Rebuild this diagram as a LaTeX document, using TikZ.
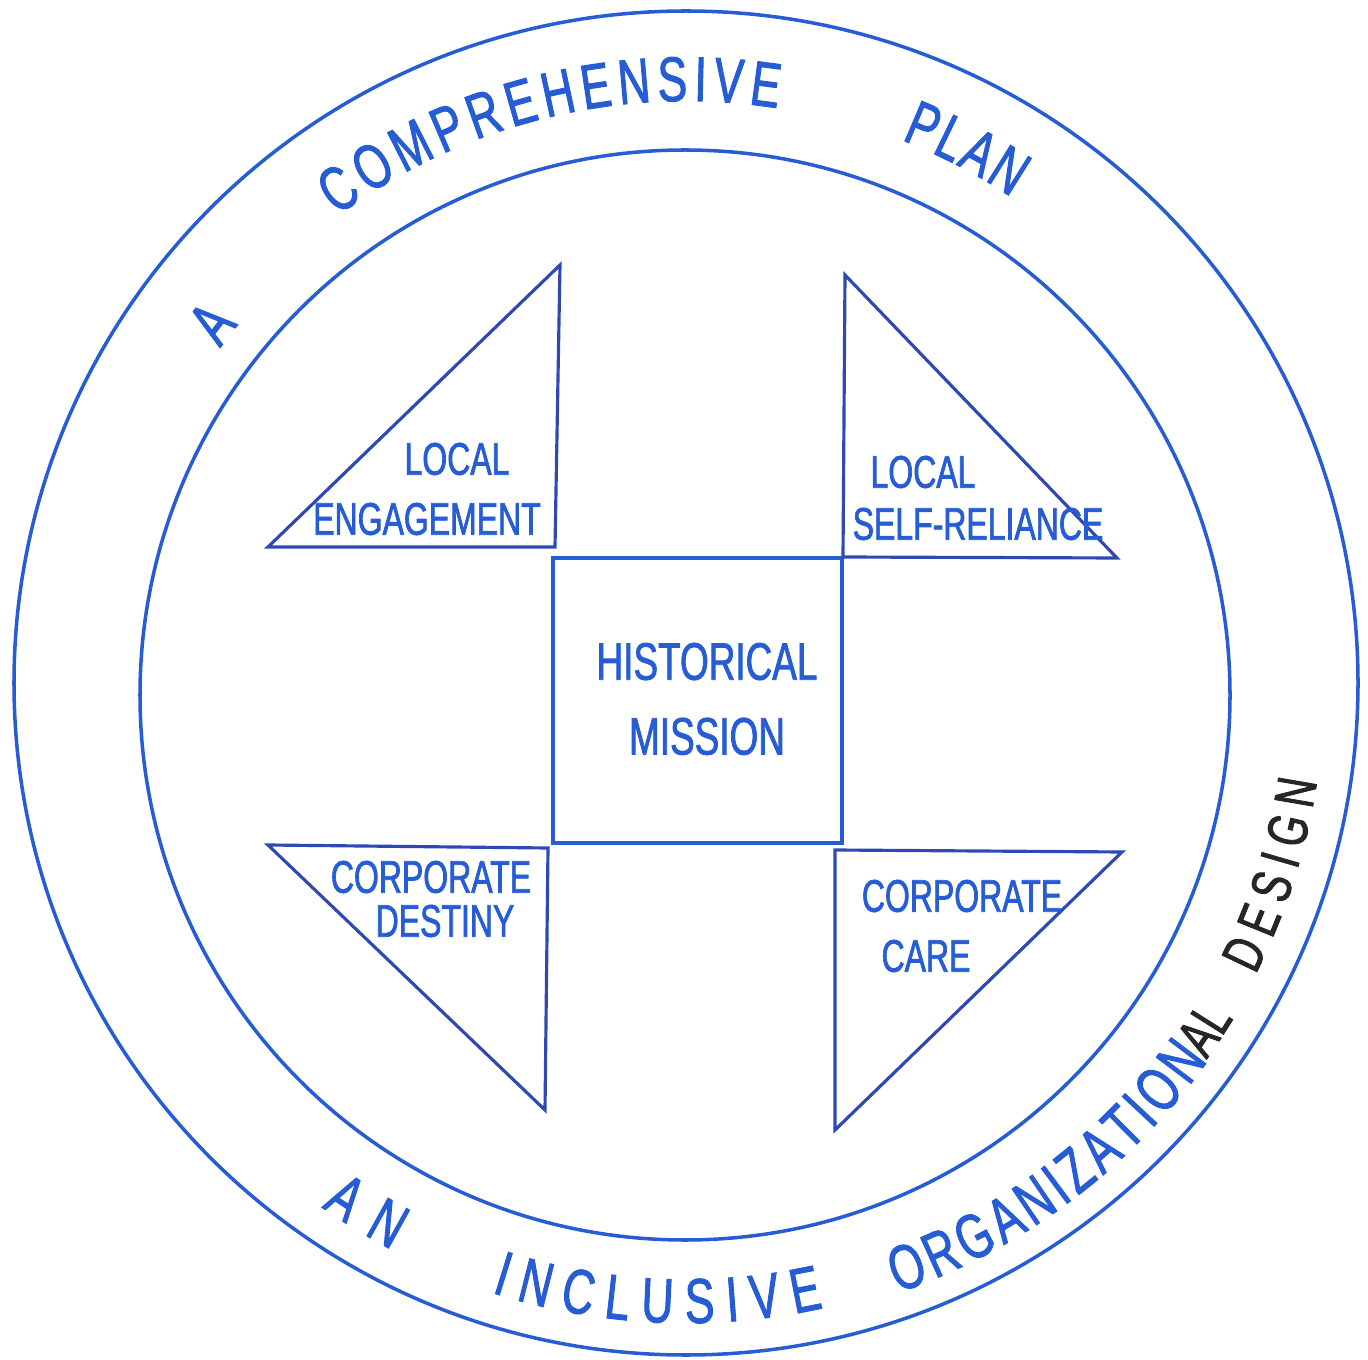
\documentclass[tikz,border=0pt]{standalone}
\usepackage{fontspec}
\usepackage{tikz}
\usetikzlibrary{decorations.text}

\newfontfamily\handfont[FakeStretch=0.7,FakeBold=1.5]{Liberation Sans}
\newcommand{\lblfont}{\handfont\fontsize{13}{17}\selectfont}
\newcommand{\rimfont}{\handfont\fontsize{18}{20}\selectfont}
\newcommand{\notefont}{\handfont\fontsize{16}{18}\selectfont}

\definecolor{inkblue}{RGB}{38,92,212}
\definecolor{inknavy}{RGB}{46,72,180}
\definecolor{inkblack}{RGB}{38,38,38}

\begin{document}
\begin{tikzpicture}[
  ring/.style={draw=inkblue, line width=1pt},
  wedge/.style={draw=inknavy, line width=0.9pt, line join=miter},
  missionbox/.style={draw=inkblue, line width=1.1pt,
                     minimum width=2.89cm, minimum height=2.85cm},
  tag/.style={text=inkblue, font=\lblfont, inner sep=0pt},
  rimword/.style={decorate, decoration={text along path, text align={fit to path},
                  text={|\rimfont\color{inkblue}|#1}}},
  rimnote/.style={decorate, decoration={text along path, text align={fit to path},
                  text={|\notefont\color{inkblack}|#1}}},
]
\useasboundingbox (0,0) rectangle (13.68,13.59);

% Rings
\coordinate (o) at (6.86,6.76);
\coordinate (i) at (6.85,6.64);
\coordinate (m) at (6.86,6.72);
\draw[ring] (o) circle (6.72);
\draw[ring] (i) circle (5.45);

% Centre square
\node[missionbox] (mission) at (6.975,6.585) {};
\node[tag, align=center, font=\handfont\fontsize{15}{21.3}\selectfont]
  (hist) at (7.07,6.60) {HISTORICAL\\MISSION};

% Corner triangles
\coordinate (tl top)    at (5.60,10.94);
\coordinate (tl left)   at (2.68,8.12);
\coordinate (tl corner) at (5.55,8.12);
\coordinate (tr top)    at (8.45,10.84);
\coordinate (tr corner) at (8.43,8.02);
\coordinate (tr right)  at (11.17,8.01);
\coordinate (bl left)   at (2.68,5.14);
\coordinate (bl corner) at (5.48,5.11);
\coordinate (bl bottom) at (5.45,2.49);
\coordinate (br corner) at (8.35,5.09);
\coordinate (br right)  at (11.22,5.07);
\coordinate (br bottom) at (8.35,2.29);

\draw[wedge] (tl top) -- (tl left) -- (tl corner) -- cycle;
\draw[wedge] (tr top) -- (tr corner) -- (tr right) -- cycle;
\draw[wedge] (bl left) -- (bl corner) -- (bl bottom) -- cycle;
\draw[wedge] (br corner) -- (br right) -- (br bottom) -- cycle;

% Triangle labels
\node[tag] (loc1)  at (4.57,9.00) {LOCAL};
\node[tag] (eng)   at (4.27,8.40) {ENGAGEMENT};
\node[tag] (loc2)  at (9.23,8.87) {LOCAL};
\node[tag] (self)  at (9.78,8.35) {SELF-RELIANCE};
\node[tag] (corp1) at (4.31,4.82) {CORPORATE};
\node[tag] (dest)  at (4.45,4.38) {DESTINY};
\node[tag] (corp2) at (9.62,4.63) {CORPORATE};
\node[tag] (care)  at (9.26,4.03) {CARE};

% Lettering round the rim
\path[decorate, decoration={text along path, text align=center,
      text={|\rimfont\color{inkblue}|A}}]
  ([shift={(146:5.76)}]m) arc[start angle=146, end angle=139, radius=5.76];
\path[rimword=COMPREHENSIVE]
  ([shift={(126.5:5.86)}]m) arc[start angle=126.5, end angle=81, radius=5.86];
\path[rimword=PLAN]
  ([shift={(68.5:5.88)}]m) arc[start angle=68.5, end angle=56.4, radius=5.88];
\path[rimword=AN]
  ([shift={(235.0:6.35)}]m) arc[start angle=235.0, end angle=242.4, radius=6.35];
\path[rimword=INCLUSIVE]
  ([shift={(252.2:6.36)}]m) arc[start angle=252.2, end angle=282.5, radius=6.36];
\path[rimword=ORGANIZATION]
  ([shift={(289.3:6.42)}]m) arc[start angle=289.3, end angle=324.4, radius=6.42];
\path[rimnote=AL]
  ([shift={(324.4:6.40)}]m) arc[start angle=324.4, end angle=328.8, radius=6.40];
\path[rimnote=DESIGN]
  ([shift={(333.2:6.38)}]m) arc[start angle=333.2, end angle=351.5, radius=6.38];

\end{tikzpicture}
\end{document}
